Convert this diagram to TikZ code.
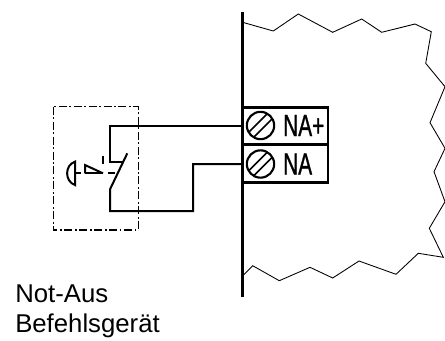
\documentclass[tikz,border=0pt]{standalone}
\usepackage{fontspec}
\setmainfont{Liberation Sans}
\newfontfamily\termfont[FakeBold=1.2]{Liberation Sans}
\begin{document}
\begin{tikzpicture}[x=0.75pt,y=-0.75pt,
  wire/.style={line width=1.5pt,line join=miter},
  boxline/.style={line width=1.7pt,line join=miter},
  wall/.style={line width=2pt},
  frame/.style={line width=0.95pt,dash pattern=on 6pt off 2pt on 1.2pt off 2pt},
  edge/.style={line width=0.65pt,line join=miter},
  screw/.style={circle,draw,line width=1.6pt,minimum size=20.5pt,inner sep=0pt},
  termlabel/.style={font=\termfont\fontsize{23}{23}\selectfont,xscale=0.68,inner sep=0pt},
  caption/.style={font=\fontsize{19.3}{22.1}\selectfont,align=left,anchor=north west,inner sep=0pt}]
\useasboundingbox (0,0) rectangle (445,340);
\coordinate (wt) at (242.3,12);
\coordinate (wb) at (242.3,297);
\draw[wall] (wt) -- (wb);
\draw[edge] (242.6,22.3) -- (273.3,31) -- (298.3,14) -- (332.7,32.3) -- (361.7,19) -- (381.7,32.3) -- (415,24) -- (431.3,31.7) -- (425.7,63.3) -- (445,86.7) -- (430,122.7) -- (445,148.3) -- (434,171.7) -- (445,201.7) -- (429.3,228.3) -- (443.3,257.3) -- (418.3,253.3) -- (396,274.3) -- (359,261) -- (332.7,278) -- (310,267.3) -- (279.3,280.7) -- (252.7,265.7) -- (242.6,276);
\coordinate (bnw) at (243,107.5);
\coordinate (bse) at (328.3,182.5);
\draw[boxline] (bnw) rectangle (bse);
\coordinate (ml) at (243,144.5);
\coordinate (mr) at (328.3,144.5);
\draw[boxline] (ml) -- (mr);
\node[screw] (s1) at (260.5,125.5) {};
\node[screw] (s2) at (260.5,164) {};
\foreach \s in {s1,s2}{
  \draw[line width=1.3pt] (\s.center) ++(-12,7) -- ++(19,-19);
  \draw[line width=1.3pt] (\s.center) ++(-7,12) -- ++(19,-19);
}
\node[termlabel,anchor=west] (t1) at (283,125.5) {NA+};
\node[termlabel,anchor=west] (t2) at (283,164) {NA};
\draw[frame] (53.3,106.7) rectangle (138.3,230);
\coordinate (j1) at (242.3,125.7);
\coordinate (j2) at (242.3,164);
\coordinate (c1) at (110,161.7);
\coordinate (c2) at (123.3,161.7);
\coordinate (c3) at (110,189.3);
\draw[wire] (j1) -- (110,125.7) -- (c1) -- (c2);
\draw[wire] (127.3,153.3) -- (c3) -- (110,211) -- (193,211) -- (193,164) -- (j2);
\draw[wire] (75,161.7) .. controls (64.5,165) and (64.5,181.5) .. (75,185) -- cycle;
\draw[wire] (75,173.3) -- (81,173.3);
\draw[wire] (85,173.3) -- (103,173.3);
\draw[wire] (108,173.3) -- (115,173.3);
\draw[wire] (85,173.3) -- (85,165) -- (103,173.3);
\draw[wire] (102.7,156) -- (102.7,164);
\node[caption] (cap) at (15,285) {Not-Aus\\Befehlsgerät};
\end{tikzpicture}
\end{document}
